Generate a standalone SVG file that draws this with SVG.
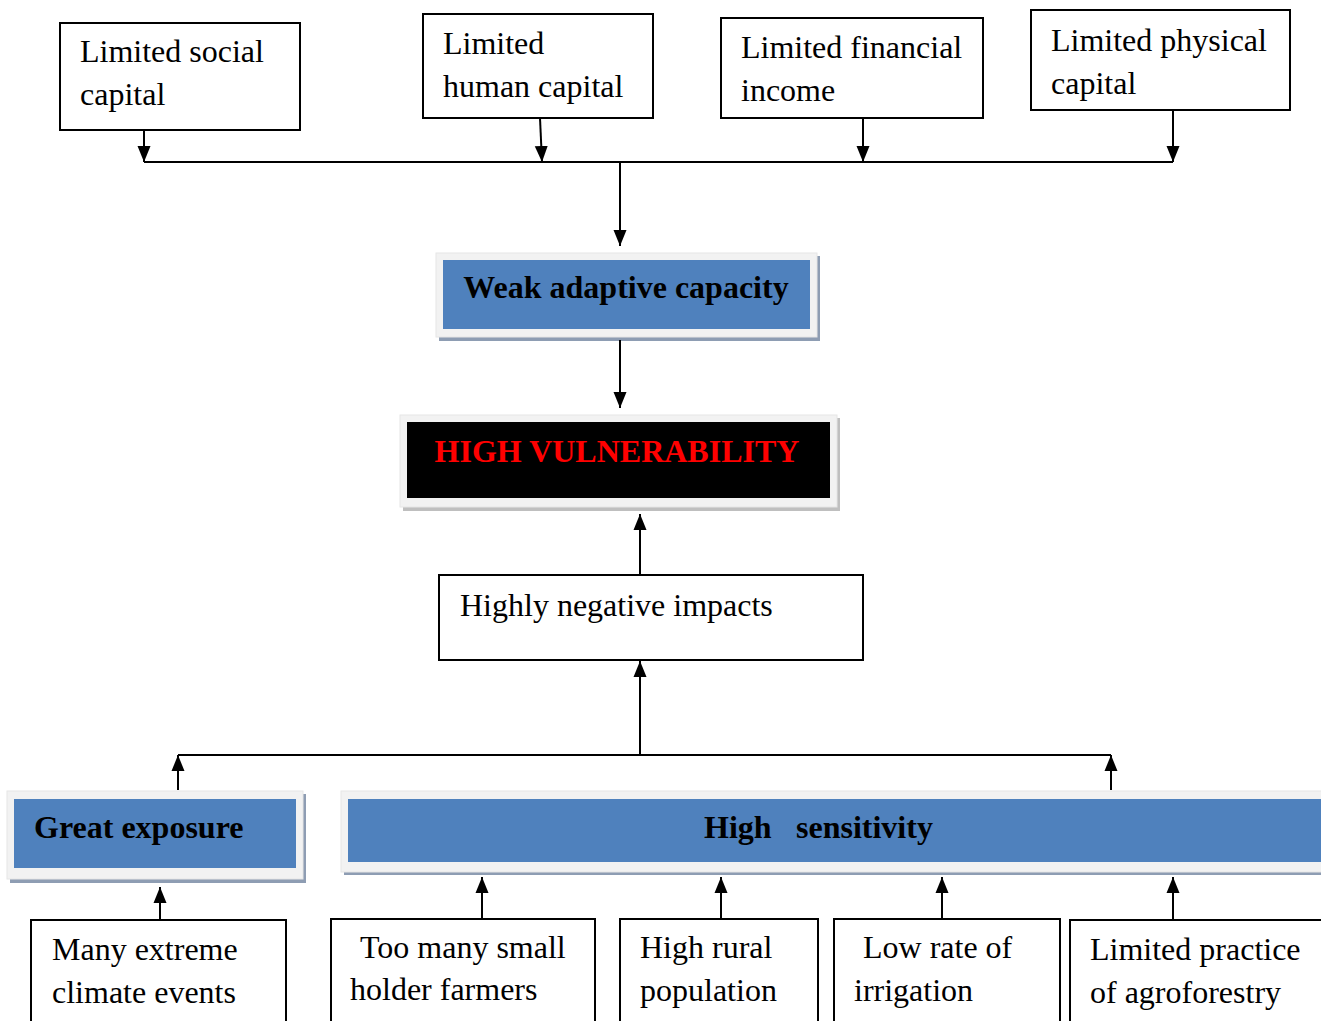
<svg xmlns="http://www.w3.org/2000/svg" width="1321" height="1021" viewBox="0 0 1321 1021">
<style>
.box{fill:#fff;stroke:#000;stroke-width:2}
.t{font-family:"Liberation Serif","Times New Roman",serif;font-size:32px;fill:#000}
.b{font-family:"Liberation Serif","Times New Roman",serif;font-size:32px;font-weight:bold;fill:#000}
.frame{fill:#f2f2f2;stroke:#e6e6e6;stroke-width:1}
.shb{fill:#8e9db3}
.shg{fill:#bfbfbf}
.blue{fill:#4f81bd}
.con{stroke:#000;stroke-width:2;fill:none}
</style>
<defs>
<marker id="ah" markerUnits="userSpaceOnUse" markerWidth="16" markerHeight="14" viewBox="0 0 16 14" refX="16" refY="7" orient="auto">
<path d="M0,0.5 L16,7 L0,13.5 Z" fill="#000"/>
</marker>
</defs>
<rect width="1321" height="1021" fill="#fff"/>

<g id="n-social"><rect class="box" x="60" y="23" width="240" height="107"/><text class="t" x="80" y="62">Limited social</text><text class="t" x="80" y="105">capital</text></g>
<g id="n-human"><rect class="box" x="423" y="14" width="230" height="104"/><text class="t" x="443" y="54">Limited</text><text class="t" x="443" y="97">human capital</text></g>
<g id="n-financial"><rect class="box" x="721" y="18" width="262" height="100"/><text class="t" x="741" y="58">Limited financial</text><text class="t" x="741" y="101">income</text></g>
<g id="n-physical"><rect class="box" x="1031" y="10" width="259" height="100"/><text class="t" x="1051" y="51">Limited physical</text><text class="t" x="1051" y="94">capital</text></g>

<g id="n-weak"><rect class="shb" x="439" y="256" width="381" height="85"/><rect class="frame" x="436" y="253" width="381" height="84"/><rect class="blue" x="443" y="260" width="367" height="69"/><text class="b" x="626" y="298" text-anchor="middle">Weak adaptive capacity</text></g>

<g id="n-vuln"><rect class="shg" x="403" y="418" width="437" height="93"/><rect class="frame" x="400" y="415" width="437" height="92"/><rect fill="#000" x="407" y="422" width="423" height="76"/><text class="b" x="617" y="462" text-anchor="middle" style="fill:#ff0000">HIGH VULNERABILITY</text></g>

<g id="n-impacts"><rect class="box" x="439" y="575" width="424" height="85"/><text class="t" x="460" y="616">Highly negative impacts</text></g>

<g id="n-exposure"><rect class="shb" x="10" y="794" width="296" height="89"/><rect class="frame" x="7" y="791" width="296" height="88"/><rect class="blue" x="14" y="799" width="282" height="69"/><text class="b" x="34" y="838">Great exposure</text></g>

<g id="n-sensitivity"><rect class="shb" x="344" y="794" width="990" height="81"/><rect class="frame" x="341" y="791" width="990" height="81"/><rect class="blue" x="348" y="799" width="980" height="63"/><text class="b" y="838"><tspan x="704">High</tspan><tspan x="796">sensitivity</tspan></text></g>

<g id="n-extreme"><rect class="box" x="31" y="920" width="255" height="110"/><text class="t" x="52" y="960">Many extreme</text><text class="t" x="52" y="1003">climate events</text></g>
<g id="n-small"><rect class="box" x="331" y="919" width="264" height="111"/><text class="t" x="360" y="958">Too many small</text><text class="t" x="350" y="1000">holder farmers</text></g>
<g id="n-rural"><rect class="box" x="620" y="919" width="198" height="111"/><text class="t" x="640" y="958">High rural</text><text class="t" x="640" y="1001">population</text></g>
<g id="n-irrigation"><rect class="box" x="834" y="919" width="226" height="111"/><text class="t" x="863" y="958">Low rate of</text><text class="t" x="854" y="1001">irrigation</text></g>
<g id="n-agro"><rect class="box" x="1070" y="920" width="270" height="110"/><text class="t" x="1090" y="960">Limited practice</text><text class="t" x="1090" y="1003">of agroforestry</text></g>

<g id="connectors">
<line class="con" x1="144" y1="130" x2="144" y2="162" marker-end="url(#ah)"/>
<line class="con" x1="540" y1="118" x2="542" y2="162" marker-end="url(#ah)"/>
<line class="con" x1="863" y1="118" x2="863" y2="162" marker-end="url(#ah)"/>
<line class="con" x1="1173" y1="110" x2="1173" y2="162" marker-end="url(#ah)"/>
<line class="con" x1="144" y1="162" x2="1173" y2="162"/>
<line class="con" x1="620" y1="162" x2="620" y2="246" marker-end="url(#ah)"/>
<line class="con" x1="620" y1="340" x2="620" y2="408" marker-end="url(#ah)"/>
<line class="con" x1="640" y1="575" x2="640" y2="514" marker-end="url(#ah)"/>
<line class="con" x1="640" y1="755" x2="640" y2="661" marker-end="url(#ah)"/>
<line class="con" x1="178" y1="755" x2="1111" y2="755"/>
<line class="con" x1="178" y1="790" x2="178" y2="755" marker-end="url(#ah)"/>
<line class="con" x1="1111" y1="790" x2="1111" y2="755" marker-end="url(#ah)"/>
<line class="con" x1="160" y1="920" x2="160" y2="887" marker-end="url(#ah)"/>
<line class="con" x1="482" y1="919" x2="482" y2="877" marker-end="url(#ah)"/>
<line class="con" x1="721" y1="919" x2="721" y2="877" marker-end="url(#ah)"/>
<line class="con" x1="942" y1="919" x2="942" y2="877" marker-end="url(#ah)"/>
<line class="con" x1="1173" y1="920" x2="1173" y2="877" marker-end="url(#ah)"/>
</g>
</svg>
